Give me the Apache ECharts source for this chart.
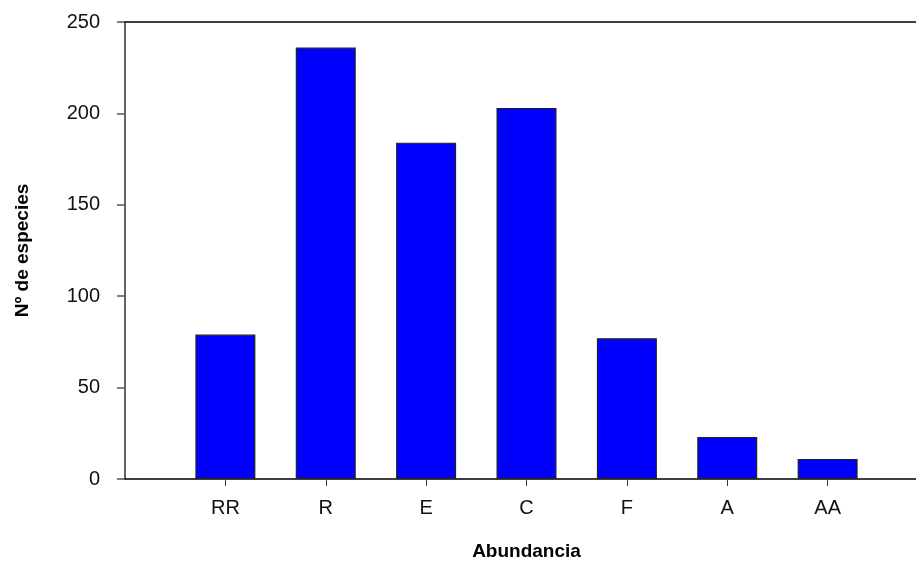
<!DOCTYPE html>
<html>
<head>
<meta charset="utf-8">
<script src="https://cdn.jsdelivr.net/npm/echarts@6/dist/echarts.min.js"></script>
<style>html,body{margin:0;padding:0;background:#fff}#c{width:916px;height:563px}</style>
</head>
<body>
<div id="c"></div>
<script>
var categories = ['', 'RR', 'R', 'E', 'C', 'F', 'A', 'AA', ''];
var speciesCount = [null, 79, 236, 184, 203, 77, 23, 11, null];
var yTicks = [0, 50, 100, 150, 200, 250];

var chart = echarts.init(document.getElementById('c'), null, {renderer: 'canvas'});
var font = 'Liberation Sans, Arial, sans-serif';
chart.setOption({
  animation: false,
  grid: {left: 125, width: 803, top: 22, height: 457, containLabel: false, outerBoundsMode: 'none'},
  xAxis: [{
    type: 'category',
    data: categories,
    boundaryGap: false,
    name: 'Abundancia',
    nameLocation: 'middle',
    nameGap: 63,
    nameTextStyle: {fontSize: 19, fontWeight: 'bold', fontFamily: font, color: '#000'},
    axisLine: {lineStyle: {color: '#000', width: 1.5}},
    axisTick: {show: true, length: 7, lineStyle: {color: '#333'}, alignWithLabel: true,
      interval: function (i, v) { return v !== ''; }},
    axisLabel: {color: '#111', fontSize: 20, fontFamily: font, margin: 19, interval: 0},
    splitLine: {show: false}
  }, {
    type: 'category',
    data: categories,
    boundaryGap: false,
    position: 'top',
    axisLine: {show: true, lineStyle: {color: '#000', width: 1.5}},
    axisTick: {show: false},
    axisLabel: {show: false}
  }],
  yAxis: {
    type: 'value',
    min: yTicks[0],
    max: yTicks[yTicks.length - 1],
    interval: yTicks[1] - yTicks[0],
    name: 'Nº de especies',
    nameLocation: 'middle',
    nameGap: 93,
    nameRotate: 90,
    nameTextStyle: {fontSize: 19, fontWeight: 'bold', fontFamily: font, color: '#000'},
    axisLine: {show: true, lineStyle: {color: '#666', width: 2}},
    axisTick: {show: true, length: 8, lineStyle: {color: '#555', width: 1.5}},
    axisLabel: {color: '#111', fontSize: 20, fontFamily: font, margin: 25},
    splitLine: {show: false}
  },
  series: [{
    type: 'bar',
    data: speciesCount,
    barWidth: 60,
    itemStyle: {color: '#0000FF', borderColor: '#222', borderWidth: 1.2}
  }]
});
</script>
</body>
</html>
